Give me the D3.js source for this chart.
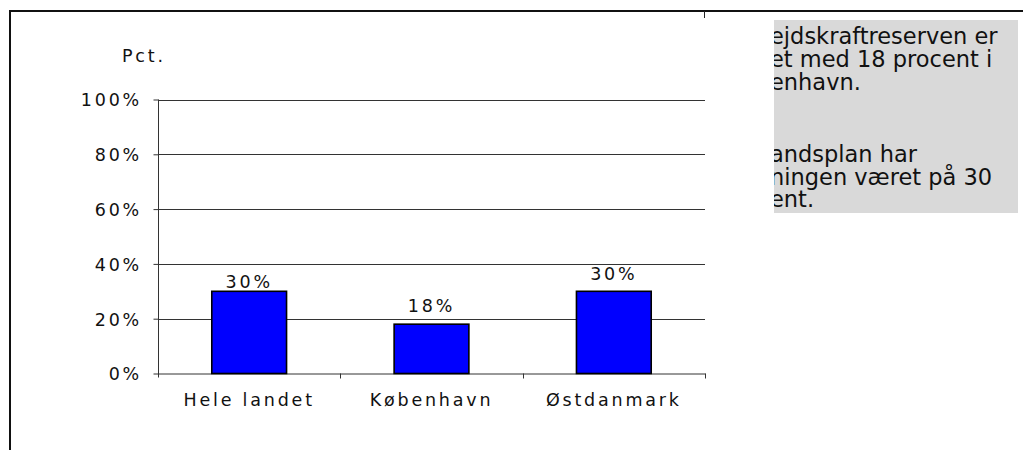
<!DOCTYPE html>
<html>
<head>
<meta charset="utf-8">
<script src="https://cdn.jsdelivr.net/npm/d3@7"></script>
<style>
  body { margin: 0; background: #fff; }
  svg { display: block; }
  .lbl { font-family: "DejaVu Sans", Verdana, sans-serif; font-size: 17.5px; letter-spacing: 2.8px; fill: #111; }
  .note { font-family: "DejaVu Sans", Verdana, sans-serif; font-size: 22.5px; fill: #111; }
</style>
</head>
<body>
<svg id="chart" width="1023" height="450"></svg>
<script>
// data
const categories = ["Hele landet", "København", "Østdanmark"]
const values = [30, 18, 30]
const yTicks = [0, 20, 40, 60, 80, 100]
const noteLines = ["ejdskraftreserven er", "et med 18 procent i", "enhavn.", "andsplan har", "ningen været på 30", "ent."]

// small nudges for the value labels, like in the original
const labelDy = [-3.5, -12, -11.5]

const svg = d3.select("#chart")

const plotLeft = 158, plotRight = 705, plotTop = 99.5, plotBottom = 373.5

const x = d3.scaleBand()
    .domain(categories)
    .range([plotLeft, plotRight])
    .paddingInner(0.59)
    .paddingOuter(0.295)

const y = d3.scaleLinear()
    .domain([0, 100])
    .range([plotBottom, plotTop])

// outer frame (cut off on the right and bottom)
svg.append("path")
    .attr("d", "M10,452 L10,11 L1025,11")
    .attr("fill", "none")
    .attr("stroke", "#111")
    .attr("stroke-width", 2)

svg.append("line")
    .attr("x1", 704.5).attr("x2", 704.5)
    .attr("y1", 11).attr("y2", 18)
    .attr("stroke", "#222")
    .attr("stroke-width", 1)

// gridlines
svg.append("g")
    .selectAll("line")
    .data(yTicks.filter(d => d > 0))
    .join("line")
    .attr("x1", plotLeft)
    .attr("x2", plotRight)
    .attr("y1", d => Math.round(y(d)) + 0.5)
    .attr("y2", d => Math.round(y(d)) + 0.5)
    .attr("stroke", "#333")
    .attr("stroke-width", 1)

// y axis
const yAxis = svg.append("g")
    .attr("transform", "translate(" + (plotLeft + 0.5) + ",0)")
    .call(d3.axisLeft(y).tickValues(yTicks).tickSize(5).tickSizeOuter(0).tickFormat(d => d + "%"))
yAxis.select(".domain").attr("stroke", "#333").attr("d", "M0," + plotTop + "V" + (plotBottom + 4))
yAxis.selectAll(".tick line").attr("stroke", "#333")
yAxis.selectAll(".tick text")
    .attr("class", "lbl")
    .attr("x", -16.5)
    .attr("dy", "0.37em")
    .attr("font-family", null)
    .attr("font-size", null)

// x axis
const xAxis = svg.append("g")
    .attr("transform", "translate(0," + plotBottom + ")")
    .call(d3.axisBottom(x).tickSize(0).tickSizeOuter(0))
xAxis.select(".domain").attr("stroke", "#333")
xAxis.selectAll(".tick text")
    .attr("class", "lbl")
    .attr("y", 32.5)
    .attr("dy", null)
    .attr("font-family", null)
    .attr("font-size", null)

// ticks between the categories
svg.append("g")
    .selectAll("line")
    .data(categories)
    .join("line")
    .attr("x1", d => Math.round(x(d) + x.bandwidth() + x.step() * 0.295) + 0.5)
    .attr("x2", d => Math.round(x(d) + x.bandwidth() + x.step() * 0.295) + 0.5)
    .attr("y1", plotBottom)
    .attr("y2", plotBottom + 5)
    .attr("stroke", "#333")

// bars
svg.append("g")
    .selectAll("rect")
    .data(values)
    .join("rect")
    .attr("x", (d, i) => x(categories[i]))
    .attr("y", d => y(d))
    .attr("width", x.bandwidth())
    .attr("height", d => plotBottom - y(d))
    .attr("fill", "#0000ff")
    .attr("stroke", "#000")
    .attr("stroke-width", 1.6)

// value labels
svg.append("g")
    .selectAll("text")
    .data(values)
    .join("text")
    .attr("class", "lbl")
    .attr("x", (d, i) => x(categories[i]) + x.bandwidth() / 2)
    .attr("y", (d, i) => y(d) + labelDy[i])
    .attr("text-anchor", "middle")
    .text(d => d + "%")

svg.append("text")
    .attr("class", "lbl")
    .attr("x", 122)
    .attr("y", 62)
    .text("Pct.")

// note box
svg.append("clipPath")
    .attr("id", "noteClip")
    .append("rect")
    .attr("x", 774).attr("y", 20)
    .attr("width", 244).attr("height", 193)

svg.append("rect")
    .attr("x", 774).attr("y", 20)
    .attr("width", 244).attr("height", 193)
    .attr("fill", "#d9d9d9")

const noteY = [44, 67, 90, 162, 185, 207]
svg.append("g")
    .attr("clip-path", "url(#noteClip)")
    .selectAll("text")
    .data(noteLines)
    .join("text")
    .attr("class", "note")
    .attr("x", 770)
    .attr("y", (d, i) => noteY[i])
    .text(d => d)
</script>
</body>
</html>
